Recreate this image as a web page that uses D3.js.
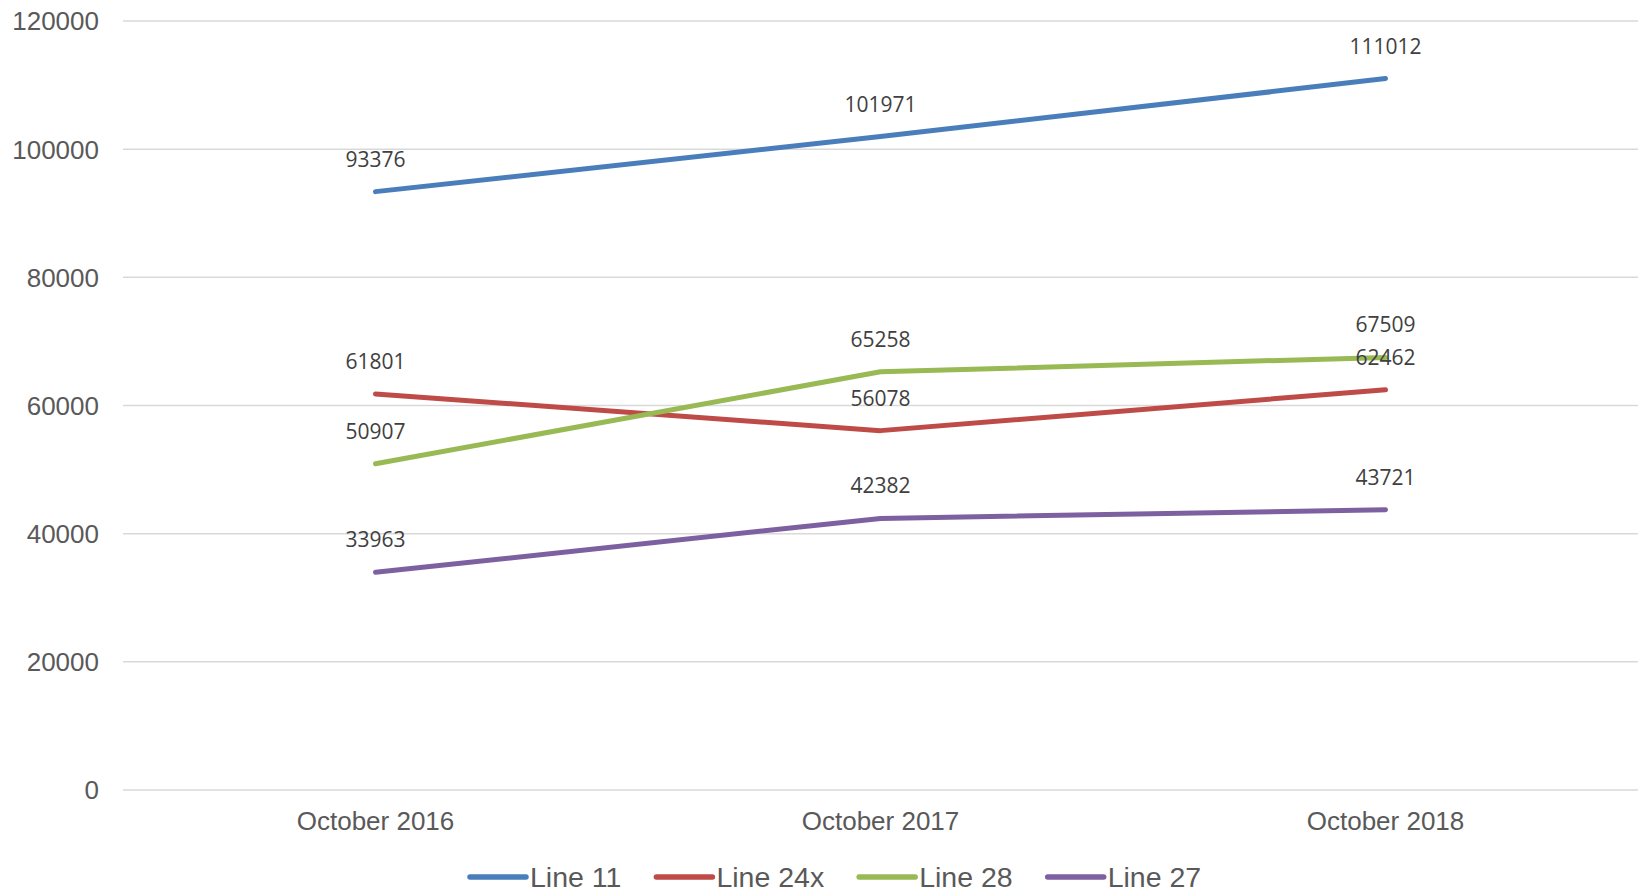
<!DOCTYPE html>
<html>
<head>
<meta charset="utf-8">
<script src="https://cdn.jsdelivr.net/npm/d3@7"></script>
<style>
  body { margin: 0; background: #fff; }
  svg { display: block; }
</style>
</head>
<body>
<svg id="chart" width="1642" height="891"></svg>
<script>
var categories = ["October 2016", "October 2017", "October 2018"];
var seriesNames = ["Line 11", "Line 24x", "Line 28", "Line 27"];
var line11 = [93376, 101971, 111012];
var line24x = [61801, 56078, 62462];
var line28 = [50907, 65258, 67509];
var line27 = [33963, 42382, 43721];
var yTicks = [0, 20000, 40000, 60000, 80000, 100000, 120000];
var colors = ["#4a7ebb", "#be4b48", "#98b954", "#7d60a0"];

var series = [line11, line24x, line28, line27].map(function (vals, i) {
    return { name: seriesNames[i], values: vals, color: colors[i] };
});

var svg = d3.select("#chart");
var plotLeft = 123, plotRight = 1638, plotTop = 21, plotBottom = 790;

var x = d3.scaleBand().domain(categories).range([plotLeft, plotRight]);
var y = d3.scaleLinear().domain([0, 120000]).range([plotBottom, plotTop]);

/* gridlines */
svg.append("g").selectAll("line")
    .data(yTicks)
    .enter().append("line")
    .attr("x1", plotLeft).attr("x2", plotRight)
    .attr("y1", function (d) { return y(d); })
    .attr("y2", function (d) { return y(d); })
    .style("stroke", "#d9d9d9")
    .style("stroke-width", 1.5);

/* y tick labels */
svg.append("g").selectAll("text")
    .data(yTicks)
    .enter().append("text")
    .attr("x", 99)
    .attr("y", function (d) { return y(d); })
    .attr("dy", "0.36em")
    .attr("text-anchor", "end")
    .style("font-family", "Liberation Sans, Arial, sans-serif")
    .style("font-size", "26px")
    .style("fill", "#595959")
    .text(function (d) { return d; });

/* x labels */
svg.append("g").selectAll("text")
    .data(categories)
    .enter().append("text")
    .attr("x", function (d) { return x(d) + x.bandwidth() / 2; })
    .attr("y", plotBottom + 40)
    .attr("text-anchor", "middle")
    .style("font-family", "Liberation Sans, Arial, sans-serif")
    .style("font-size", "26px")
    .style("fill", "#595959")
    .text(function (d) { return d; });

var line = d3.line()
    .x(function (d, i) { return x(categories[i]) + x.bandwidth() / 2; })
    .y(function (d) { return y(d); });

var g = svg.append("g");
series.forEach(function (s) {
    g.append("path")
        .datum(s.values)
        .attr("d", line)
        .style("fill", "none")
        .style("stroke", s.color)
        .style("stroke-width", 5)
        .style("stroke-linecap", "round")
        .style("stroke-linejoin", "round");
});

/* data labels */
series.forEach(function (s) {
    g.selectAll(null)
        .data(s.values)
        .enter().append("text")
        .attr("x", function (d, i) { return x(categories[i]) + x.bandwidth() / 2; })
        .attr("y", function (d) { return y(d) - 25; })
        .attr("text-anchor", "middle")
        .style("font-family", "Open Sans, sans-serif")
        .style("font-size", "21px")
        .style("fill", "#404040")
        .text(function (d) { return d; });
});

/* legend */
var legend = svg.append("g");
var lx = 470, ly = 877;
series.forEach(function (s) {
    legend.append("line")
        .attr("x1", lx).attr("x2", lx + 56)
        .attr("y1", ly).attr("y2", ly)
        .style("stroke", s.color)
        .style("stroke-width", 5.5)
        .style("stroke-linecap", "round");
    var t = legend.append("text")
        .attr("x", lx + 60)
        .attr("y", ly + 10)
        .style("font-family", "Liberation Sans, Arial, sans-serif")
        .style("font-size", "28.5px")
        .style("fill", "#595959")
        .text(s.name);
    lx += 60 + t.node().getComputedTextLength() + 35;
});
</script>
</body>
</html>
